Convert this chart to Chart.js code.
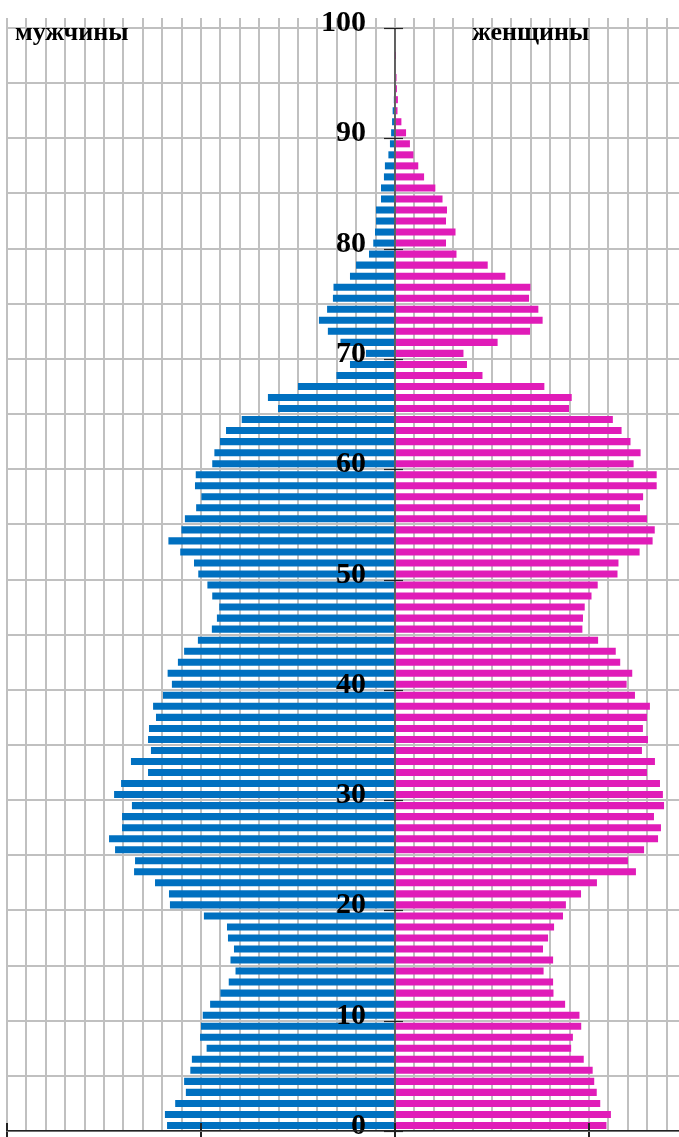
<!DOCTYPE html>
<html>
<head>
<meta charset="utf-8">
<script src="https://cdn.jsdelivr.net/npm/chart.js@4.4.1/dist/chart.umd.min.js"></script>
<style>
  html, body { margin: 0; padding: 0; background: #fff; }
  #wrap { width: 679px; height: 1137px; }
</style>
</head>
<body>
<div id="wrap"><canvas id="pyramid" width="679" height="1137"></canvas></div>
<script>
const titleLeft = 'мужчины';
const titleRight = 'женщины';

// one bar per year of age, age 0 at the bottom
const ages = Array.from({ length: 100 }, (_, i) => String(i));

// bar lengths in grid cells (men drawn to the left)
const men = [
  11.75, 11.86, 11.33, 10.78, 10.87, 10.55, 10.47, 9.71, 10.05, 10.0,
  9.91, 9.53, 9.0, 8.57, 8.22, 8.48, 8.3, 8.61, 8.66, 9.85,
  11.6, 11.65, 12.37, 13.45, 13.4, 14.43, 14.74, 14.07, 14.07, 13.56,
  14.48, 14.12, 12.73, 13.61, 12.58, 12.73, 12.68, 12.32, 12.47, 11.96,
  11.5, 11.72, 11.19, 10.87, 10.16, 9.44, 9.18, 9.06, 9.42, 9.67,
  10.14, 10.36, 11.07, 11.68, 11.01, 10.83, 10.25, 9.98, 10.31, 10.27,
  9.42, 9.31, 9.02, 8.71, 7.9, 6.03, 6.55, 5.0, 3.02, 2.32,
  1.5, 2.81, 3.46, 3.92, 3.5, 3.2, 3.17, 2.32, 2.01, 1.34,
  1.12, 1.03, 0.98, 0.98, 0.72, 0.72, 0.57, 0.52, 0.34, 0.26,
  0.2, 0.15, 0.12, 0.06, 0, 0, 0, 0, 0, 0
];

const women = [
  10.9, 11.13, 10.58, 10.4, 10.27, 10.19, 9.73, 9.08, 9.17, 9.6,
  9.51, 8.77, 8.17, 8.15, 7.66, 8.15, 7.63, 7.89, 8.2, 8.66,
  8.81, 9.59, 10.41, 12.42, 12.01, 12.84, 13.56, 13.71, 13.35, 13.87,
  13.81, 13.66, 12.99, 13.4, 12.73, 13.04, 12.78, 12.99, 13.14, 12.37,
  11.94, 12.23, 11.61, 11.38, 10.47, 9.66, 9.69, 9.78, 10.13, 10.45,
  11.47, 11.52, 12.61, 13.28, 13.39, 12.99, 12.63, 12.79, 13.49, 13.49,
  12.3, 12.66, 12.14, 11.68, 11.23, 8.97, 9.11, 7.7, 4.51, 3.71,
  3.53, 5.29, 6.96, 7.61, 7.39, 6.91, 6.98, 5.69, 4.78, 3.17,
  2.63, 3.12, 2.63, 2.68, 2.45, 2.08, 1.5, 1.2, 0.95, 0.77,
  0.57, 0.33, 0.13, 0.15, 0.1, 0.08, 0.05, 0.03, 0, 0
];

const ageTicks = [0, 10, 20, 30, 40, 50, 60, 70, 80, 90, 100];
const bottomTicks = [-20, -10, 0, 10];

const xMin = -20;
const xMax = 14.64;
const gridGrey = '#c0c0c0';
const inkDark = '#222';
const labelFont = 'bold 30px "Liberation Serif", "Times New Roman", serif';

// centre axis with its age labels, plus the short marks on the bottom axis
const axisMarks = {
  id: 'axisMarks',
  afterDatasetsDraw(chart) {
    const { ctx, chartArea, scales } = chart;
    const x0 = scales.x.getPixelForValue(0);
    const seg = (x1, y1, x2, y2) => {
      ctx.beginPath();
      ctx.moveTo(x1, y1);
      ctx.lineTo(x2, y2);
      ctx.stroke();
    };
    ctx.save();
    ctx.strokeStyle = inkDark;
    ctx.lineWidth = 1.2;
    seg(x0, chartArea.top, x0, chartArea.bottom);

    ctx.font = labelFont;
    ctx.fillStyle = '#000';
    ctx.textAlign = 'right';
    ctx.textBaseline = 'middle';
    const labelX = scales.x.getPixelForValue(-1.5);
    ageTicks.forEach(a => {
      const y = Math.round(scales.age.getPixelForValue(a)) + 0.5;
      seg(x0 - 11, y, x0 + 8, y);
      ctx.fillText(String(a), labelX, y - 5);
    });

    ctx.lineWidth = 2;
    bottomTicks.forEach(v => {
      const x = Math.round(scales.x.getPixelForValue(v));
      seg(x, chartArea.bottom - 8, x, chartArea.bottom);
    });
    ctx.restore();
  }
};

// the two headings over the halves
const sideTitles = {
  id: 'sideTitles',
  afterDraw(chart) {
    const ctx = chart.ctx;
    ctx.save();
    ctx.font = 'bold 26px "Liberation Serif", "Times New Roman", serif';
    ctx.fillStyle = '#000';
    ctx.textBaseline = 'alphabetic';
    ctx.fillText(titleLeft, 15, 40);
    ctx.fillText(titleRight, 472, 40);
    ctx.restore();
  }
};

const chart = new Chart(document.getElementById('pyramid'), {
  type: 'bar',
  data: {
    labels: ages,
    datasets: [
      {
        label: titleLeft,
        data: men.map(v => -v),
        backgroundColor: '#0070c0',
        grouped: false
      },
      {
        label: titleRight,
        data: women,
        backgroundColor: '#e01cb8',
        grouped: false
      }
    ]
  },
  options: {
    indexAxis: 'y',
    responsive: false,
    devicePixelRatio: 1,
    animation: false,
    barPercentage: 0.64,
    categoryPercentage: 1,
    layout: { padding: { top: 18, left: 7, right: 0, bottom: 0 } },
    plugins: {
      legend: { display: false },
      tooltip: { enabled: false }
    },
    scales: {
      x: {
        type: 'linear',
        position: 'top',
        min: xMin,
        max: xMax,
        ticks: { display: false, stepSize: 1, includeBounds: false },
        grid: { color: gridGrey, lineWidth: 2, tickLength: 10 },
        border: { display: false }
      },
      xAxisLine: {
        axis: 'x',
        type: 'linear',
        position: 'bottom',
        min: xMin,
        max: xMax,
        afterBuildTicks: scale => { scale.ticks = bottomTicks.map(v => ({ value: v })); },
        ticks: { display: false },
        grid: { drawOnChartArea: false, color: inkDark, lineWidth: 2, tickLength: 6 },
        border: { display: true, color: inkDark, width: 1.5, z: 1 }
      },
      y: {
        type: 'category',
        labels: ages,
        reverse: true,
        display: false
      },
      // bar charts hand their index-axis defaults (offset) to every y scale
      age: {
        axis: 'y',
        type: 'linear',
        position: 'left',
        min: 0,
        max: 100,
        offset: false,
        ticks: { display: false, stepSize: 5 },
        grid: { offset: false, color: gridGrey, lineWidth: 2, drawTicks: false },
        border: { display: false }
      }
    }
  },
  plugins: [axisMarks, sideTitles]
});
</script>
</body>
</html>
